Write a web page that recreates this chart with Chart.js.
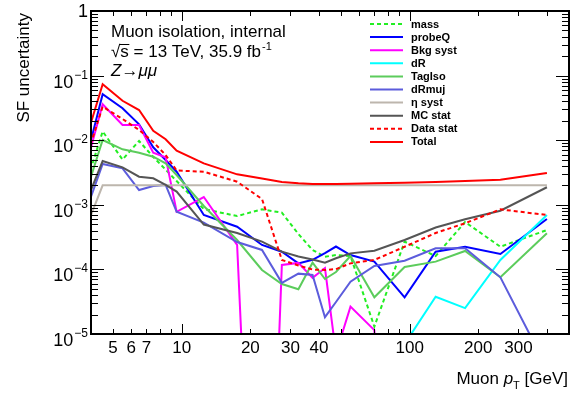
<!DOCTYPE html>
<html>
<head>
<meta charset="utf-8">
<script src="https://cdn.jsdelivr.net/npm/chart.js@4.4.1/dist/chart.umd.min.js"></script>
<style>
  html, body { margin: 0; padding: 0; background: #ffffff; }
  canvas { display: block; }
</style>
</head>
<body>
<canvas id="c" width="576" height="397"></canvas>
<script>
// Muon pT bin centres [GeV]
const ptBins = [3.5, 4.5, 5.5, 6.5, 7.5, 8.5, 9.5, 12.5, 17.5, 22.5, 27.5, 32.5, 37.5, 42.5, 47.5, 55, 70, 95, 130, 175, 250, 400];

// Scale-factor uncertainty per source (0 = no contribution in that bin)
const mass      = [8.3e-4, 0.01365, 0.00502, 0.00973, 0.0055, 0.0035, 0.00233, 8.6e-4, 6.7e-4, 8.5e-4, 7.55e-4, 3.53e-4, 2.0e-4, 1.57e-4, 1.67e-4, 1.61e-4, 1.30e-5, 2.69e-4, 1.61e-4, 5.42e-4, 2.24e-4, 4.07e-4];
const probeQ    = [0.00159, 0.0514, 0.0312, 0.0176, 0.00776, 0.00493, 0.00325, 6.95e-4, 4.58e-4, 2.39e-4, 1.88e-4, 1.24e-4, 1.41e-4, 1.79e-4, 2.26e-4, 1.67e-4, 1.32e-4, 3.70e-5, 1.88e-4, 2.25e-4, 1.73e-4, 6.03e-4];
const bkgSyst   = [0.00136, 0.036, 0.0172, 0.0172, 0.0064, 0.00543, 7.8e-4, 0.00132, 2.39e-4, 0, 1.17e-4, 1.26e-4, 7.4e-5, 1.05e-4, 5e-6, 2.65e-5, 1.15e-5, 0, 0, 0, 0, 0];
const dR        = [0, 0, 0, 0, 0, 0, 0, 0, 0, 0, 0, 0, 0, 0, 0, 0, 0, 7e-6, 3.78e-5, 2.52e-5, 1.40e-4, 6.95e-4];
const tagIso    = [6.2e-4, 0.01007, 0.00723, 0.0064, 0.00556, 0.00438, 0.00289, 9.6e-4, 2.85e-4, 9.8e-5, 5.94e-5, 4.92e-5, 1.27e-4, 7.1e-5, 9.1e-5, 1.61e-4, 3.70e-5, 1.09e-4, 1.32e-4, 1.93e-4, 7.55e-5, 3.62e-4];
const dRmuj     = [3.55e-4, 0.00429, 0.00367, 0.00169, 0.00195, 0.00203, 7.8e-4, 5.3e-4, 2.65e-4, 2.0e-4, 6.2e-5, 8.6e-5, 8.2e-5, 1.82e-5, 3.13e-5, 6.45e-5, 1.13e-4, 1.36e-4, 2.12e-4, 2.12e-4, 7.55e-5, 3e-6];
const etaSyst   = [2.1e-4, 0.002, 0.002, 0.002, 0.002, 0.002, 0.002, 0.002, 0.002, 0.002, 0.002, 0.002, 0.002, 0.002, 0.002, 0.002, 0.002, 0.002, 0.002, 0.002, 0.002, 0.002];
const mcStat    = [5.25e-4, 0.00476, 0.0038, 0.00272, 0.00257, 0.00203, 0.0016, 4.95e-4, 3.65e-4, 2.69e-4, 1.88e-4, 1.58e-4, 1.42e-4, 1.27e-4, 1.49e-4, 1.77e-4, 1.95e-4, 2.85e-4, 4.46e-4, 5.97e-4, 8.1e-4, 0.00187];
const dataStat  = [0.0021, 0.033, 0.0213, 0.0144, 0.00938, 0.0059, 0.0034, 0.00325, 0.00228, 0.00123, 1.40e-4, 1.15e-4, 9.95e-5, 9.8e-5, 1.01e-4, 1.24e-4, 1.40e-4, 2.24e-4, 3.66e-4, 5.18e-4, 8.5e-4, 6.95e-4];
const total     = [0.0040, 0.0733, 0.0408, 0.0293, 0.0140, 0.01033, 0.00687, 0.00438, 0.00296, 0.00255, 0.00225, 0.00215, 0.0021, 0.0021, 0.0021, 0.00212, 0.00215, 0.0022, 0.00225, 0.00233, 0.00245, 0.0031];

// Axis labels
const xLabelValues = [5, 6, 7, 10, 20, 30, 40, 100, 200, 300];
const xMinorTicks  = [5, 6, 7, 8, 9, 20, 30, 40, 50, 60, 70, 80, 90, 200, 300, 400];
const xMajorTicks  = [10, 100];
const yDecades     = [-5, -4, -3, -2, -1, 0];

const series = [
  { label: 'mass',      data: mass,     color: '#22ee22', dash: [4, 3] },
  { label: 'probeQ',    data: probeQ,   color: '#0000ff', dash: [] },
  { label: 'Bkg syst',  data: bkgSyst,  color: '#ff00ff', dash: [] },
  { label: 'dR',        data: dR,       color: '#00ffff', dash: [] },
  { label: 'TagIso',    data: tagIso,   color: '#5ccc5c', dash: [] },
  { label: 'dRmuj',     data: dRmuj,    color: '#5c5cdc', dash: [] },
  { label: '\u03b7 syst', data: etaSyst, color: '#bdb6ad', dash: [] },
  { label: 'MC stat',   data: mcStat,   color: '#555555', dash: [] },
  { label: 'Data stat', data: dataStat, color: '#ff0000', dash: [4, 3] },
  { label: 'Total',     data: total,    color: '#ff0000', dash: [] }
];

// A zero cannot sit on a log axis: draw it as a steep drop far below the frame.
const ZERO_FLOOR = 1e-12;

const datasets = series.map((s, i) => ({
  label: s.label,
  data: ptBins.map((pt, k) => ({ x: pt, y: s.data[k] > 0 ? s.data[k] : ZERO_FLOOR })),
  borderColor: s.color,
  backgroundColor: s.color,
  borderDash: s.dash,
  borderWidth: 2,
  pointRadius: 0,
  tension: 0,
  fill: false,
  order: series.length - 1 - i
}));

const FONT = '"Liberation Sans", Arial, Helvetica, sans-serif';

const frameAndText = {
  id: 'frameAndText',
  afterDraw(chart) {
    const { ctx, chartArea: a, scales } = chart;
    const xs = scales.x, ys = scales.y;
    ctx.save();

    const seg = (x1, y1, x2, y2) => { ctx.beginPath(); ctx.moveTo(x1, y1); ctx.lineTo(x2, y2); ctx.stroke(); };

    // ticks on all four sides, pointing into the frame
    ctx.strokeStyle = '#000';
    ctx.lineWidth = 1;
    yDecades.forEach(e => {
      for (let m = 1; m <= 9; m++) {
        const v = m * Math.pow(10, e);
        if (v > 1.0000001) break;
        const py = Math.round(ys.getPixelForValue(v)) + 0.5;
        const len = m === 1 ? 13 : 7;
        seg(a.left, py, a.left + len, py);
        seg(a.right, py, a.right - len, py);
      }
    });
    const xTick = (v, len) => {
      const px = Math.round(xs.getPixelForValue(v)) + 0.5;
      seg(px, a.bottom, px, a.bottom - len);
      seg(px, a.top, px, a.top + len);
    };
    xMinorTicks.forEach(v => xTick(v, 5));
    xMajorTicks.forEach(v => xTick(v, 10));

    // frame
    ctx.lineWidth = 2;
    ctx.strokeRect(a.left, a.top, a.right - a.left, a.bottom - a.top);

    ctx.fillStyle = '#000';

    // x tick labels
    ctx.font = '17px ' + FONT;
    ctx.textAlign = 'center';
    ctx.textBaseline = 'alphabetic';
    xLabelValues.forEach(v => {
      ctx.fillText(String(v), xs.getPixelForValue(v), 353);
    });

    // y tick labels: 1, 10^-1 ... 10^-5
    yDecades.forEach(e => {
      const py = ys.getPixelForValue(Math.pow(10, e));
      if (e === 0) {
        ctx.font = '18px ' + FONT;
        ctx.textAlign = 'right';
        ctx.fillText('1', 88, py + 6);
        return;
      }
      const sup = '\u2212' + String(-e);
      ctx.font = '12px ' + FONT;
      ctx.textAlign = 'right';
      ctx.fillText(sup, 88, py + 3);
      const wSup = ctx.measureText(sup).width;
      ctx.font = '18px ' + FONT;
      ctx.fillText('10', 88 - wSup - 1, py + 12);
    });

    // axis titles
    ctx.font = '17px ' + FONT;
    ctx.textAlign = 'right';
    ctx.save();
    ctx.translate(29, 13);
    ctx.rotate(-Math.PI / 2);
    ctx.fillText('SF uncertainty', 0, 0);
    ctx.restore();

    // "Muon p_T [GeV]" right-aligned with the frame
    const tail = ' [GeV]';
    const xr = 568;
    ctx.font = '17px ' + FONT;
    ctx.textAlign = 'left';
    const wTail = ctx.measureText(tail).width;
    ctx.font = '11px ' + FONT;
    const wSub = ctx.measureText('T').width;
    ctx.font = 'italic 17px ' + FONT;
    const wP = ctx.measureText('p').width;
    ctx.font = '17px ' + FONT;
    const wMuon = ctx.measureText('Muon ').width;
    let x0 = xr - wTail - wSub - wP - wMuon;
    const base = 384;
    ctx.fillText('Muon ', x0, base); x0 += wMuon;
    ctx.font = 'italic 17px ' + FONT; ctx.fillText('p', x0, base); x0 += wP;
    ctx.font = '11px ' + FONT; ctx.fillText('T', x0, base + 5); x0 += wSub;
    ctx.font = '17px ' + FONT; ctx.fillText(tail, x0, base);

    // header text
    ctx.font = '17px ' + FONT;
    ctx.textAlign = 'left';
    ctx.fillText('Muon isolation, internal', 111, 37);
    let tx = 111;
    ctx.fillText('\u221A', tx, 57);
    const wRad = ctx.measureText('\u221A').width;
    tx += wRad;
    ctx.fillText('s', tx, 57);
    const wS = ctx.measureText('s').width;
    ctx.lineWidth = 1;
    seg(tx - 1, 44.5, tx + wS + 0.5, 44.5);
    tx += wS;
    const lumi = ' = 13 TeV, 35.9 fb';
    ctx.fillText(lumi, tx, 57);
    tx += ctx.measureText(lumi).width;
    ctx.font = '11px ' + FONT;
    ctx.fillText('-1', tx + 1, 50);
    ctx.font = 'italic 17px ' + FONT;
    ctx.fillText('Z\u2192\u03bc\u03bc', 111, 76);

    // legend
    ctx.font = 'bold 11px ' + FONT;
    ctx.textBaseline = 'middle';
    series.forEach((s, i) => {
      const ly = 24 + i * 13.1;
      ctx.strokeStyle = s.color;
      ctx.lineWidth = 2;
      ctx.setLineDash(s.dash);
      seg(370, ly, 403, ly);
      ctx.setLineDash([]);
      ctx.fillStyle = '#000';
      ctx.fillText(s.label, 411, ly + 0.5);
    });

    ctx.restore();
  }
};

new Chart(document.getElementById('c'), {
  type: 'line',
  data: { datasets },
  options: {
    responsive: false,
    animation: false,
    devicePixelRatio: 1,
    layout: { padding: { left: 91, right: 7, top: 11, bottom: 63 } },
    plugins: { legend: { display: false }, tooltip: { enabled: false } },
    scales: {
      x: { type: 'logarithmic', min: 4, max: 500, display: false },
      y: { type: 'logarithmic', min: 1e-5, max: 1, display: false }
    }
  },
  plugins: [frameAndText]
});
</script>
</body>
</html>
